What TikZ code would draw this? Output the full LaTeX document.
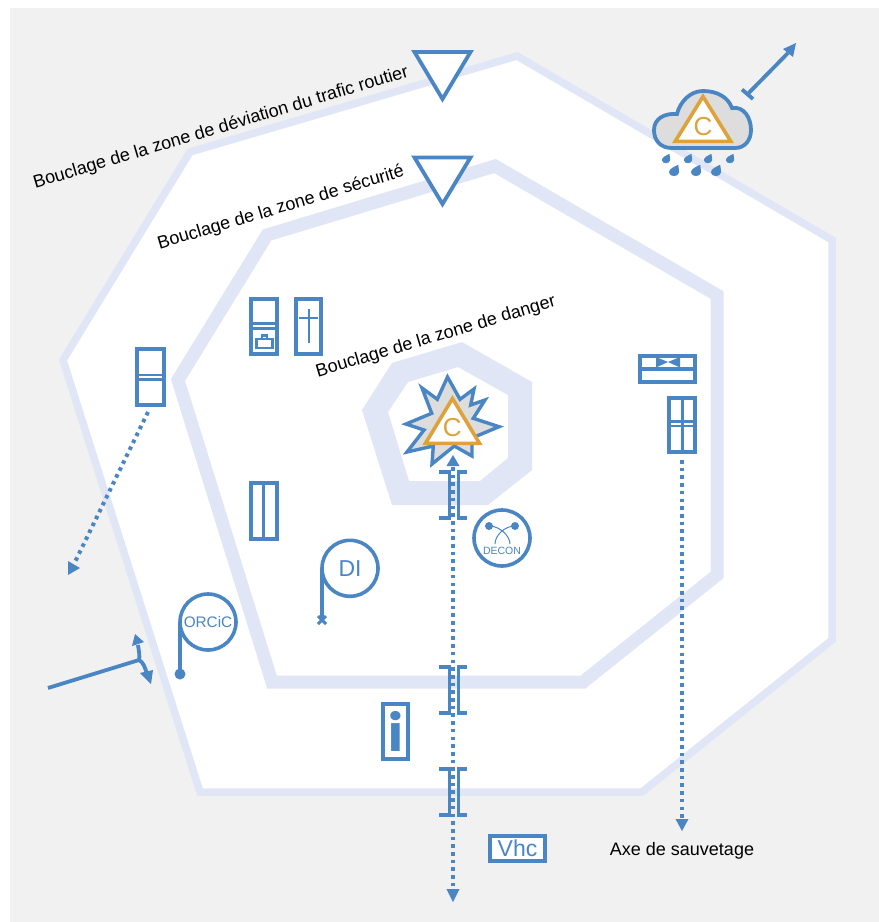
\documentclass[tikz,border=0pt]{standalone}
\usepackage{fontspec}
\setmainfont{Liberation Sans}
\newfontfamily\infofont{Poppins}
\usetikzlibrary{arrows.meta}
\definecolor{bluec}{HTML}{4A85C4}
\definecolor{bandc}{HTML}{E1E6F6}
\definecolor{bgc}{HTML}{F1F1F1}
\definecolor{orangec}{HTML}{DDA23C}
\definecolor{greyc}{HTML}{DDDDDD}
\tikzset{
  x=1pt,y=-1pt,
  band/.style={draw=bandc,line join=miter,fill=white},
  bluebox/.style={draw=bluec,line width=3.5pt,fill=white,outer sep=0pt},
  hazard/.style={draw=orangec,line width=3.6pt,fill=white,line join=miter},
  hazletter/.style={text=orangec,font=\fontsize{26}{26}\selectfont,inner sep=0pt},
  roundsign/.style={circle,draw=bluec,line width=3.6pt,minimum size=56pt,inner sep=0pt,outer sep=0pt,text=bluec},
  zonetext/.style={rotate=16.6,font=\fontsize{18}{18}\selectfont,text=black,inner sep=0pt},
  dotline/.style={draw=bluec,line width=4pt,dash pattern=on 3.6pt off 4.1pt},
  heada/.style={fill=bluec,draw=none},
  bracket/.style={draw=bluec,line width=3.4pt},
  solidarrow/.style={draw=bluec,line width=3.8pt},
  invtri/.style={draw=bluec,line width=3.8pt,line join=miter,fill=white},
  boxline/.style={draw=bluec,line width=2.6pt},
}
\begin{document}
\begin{tikzpicture}
\useasboundingbox (0,0) rectangle (879,922);
\fill[bgc] (10,8) rectangle (879,922);
% zones
\draw[band,line width=7.5pt] (517,56) -- (832,240) -- (832,640) -- (642,792) -- (200,792) -- (63,360) -- (190,152) -- cycle;
\draw[band,line width=13pt] (495,166) -- (717,295) -- (717,575) -- (583,682) -- (272,682) -- (178,380) -- (267,235) -- cycle;
\fill[bandc,even odd rule] (462,342) -- (532,382) -- (532,470) -- (488,505) -- (392,505) -- (362,410) -- (392,363) -- cycle
  (458,367) -- (508,395) -- (508,458) -- (480,481) -- (409,481) -- (388,412) -- (408,382) -- cycle;
% labels
\node[zonetext] (zoneA) at (221,128) {Bouclage de la zone de déviation du trafic routier};
\node[zonetext] (zoneB) at (281,208) {Bouclage de la zone de sécurité};
\node[zonetext] (zoneC) at (436,337) {Bouclage de la zone de danger};
% inverted triangles
\draw[invtri] (414.5,52) -- (470.5,52) -- (442.5,99) -- cycle;
\draw[invtri] (414.5,157.5) -- (470.5,157.5) -- (442.5,204) -- cycle;
% cloud
\draw[draw=bluec,line width=3.8pt,fill=greyc] (672,148) .. controls (660,148) and (654,140) .. (654,130)
  .. controls (654,119) and (664,113) .. (677,114) .. controls (680,102) and (690,91) .. (703,91)
  .. controls (717,91) and (728,97) .. (732,108) .. controls (744,106) and (751,118) .. (751,130)
  .. controls (751,140) and (745,148) .. (735,148) -- cycle;
\draw[hazard] (703,96.5) -- (730.8,141.3) -- (675.2,141.3) -- cycle;
\node[hazletter] (hazA) at (703,127) {C};
\foreach \dx/\dy/\ds in {666/159/1.15,688/159/1.15,708/159/1.15,730/159/1.15,674/171/1.4,696/171/1.4,716/171/1.4}
  \fill[bluec,shift={(\dx,\dy)},scale=\ds] (3,-4.5) .. controls (3.4,-1) and (3.8,0) .. (3.6,1)
     .. controls (3.2,4.4) and (-3.2,4.6) .. (-3.6,1) .. controls (-3.6,-1.5) and (0,-3) .. (3,-4.5) -- cycle;
% wind arrow
\coordinate (windA) at (747.7,94);
\coordinate (windB) at (788,53);
\draw[solidarrow] (windA) -- (windB);
\fill[heada] (796,43) -- (793,57) -- (783,49) -- cycle;
\draw[solidarrow] (742,89.5) -- (753,99);
% explosion
\draw[draw=bluec,line width=3.4pt,fill=greyc,line join=miter]
  (447.5,377) -- (460,399.3) -- (474,389) -- (470.7,405) -- (485,400) -- (473.3,418.3) -- (499,426.7)
  -- (472,438) -- (472,456) -- (454.3,446) -- (432,464) -- (433.3,446) -- (407,452) -- (424,430) -- (406,424)
  -- (431.7,413.3) -- (422,388) -- (437.3,399.3) -- cycle;
\draw[hazard] (452.5,398.5) -- (479.5,443.3) -- (425.5,443.3) -- cycle;
\node[hazletter] (hazB) at (452.3,428) {C};
% main dotted axis
\coordinate (axisTop) at (453,455);
\coordinate (axisBot) at (453,902);
\draw[dotline] (453,467) -- (453,889);
\fill[heada] (axisTop) -- (459.5,466) -- (446.5,466) -- cycle;
\fill[heada] (axisBot) -- (446.5,889) -- (459.5,889) -- cycle;
% brackets
\foreach \ya/\yb in {472/518,667/713,769/815}{
  \draw[bracket] (439,\ya) -- (449.3,\ya) -- (449.3,\yb) -- (439,\yb);
  \draw[bracket] (467,\ya) -- (458.5,\ya) -- (458.5,\yb) -- (467,\yb);
}
% decon
\node[roundsign] (decon) at (502,538) {};
\node[text=bluec,font=\fontsize{10.5}{10.5}\selectfont,inner sep=0pt] (deconT) at (502,551) {DECON};
\fill[bluec] (489,526) circle (4);
\fill[bluec] (515,526) circle (4);
\draw[draw=bluec,line width=1pt] (489,526) .. controls (500,526) and (510,536) .. (510,544);
\draw[draw=bluec,line width=1pt] (515,526) .. controls (504,526) and (495,536) .. (495,544);
% DI
\node[roundsign,font=\fontsize{23}{23}\selectfont] (di) at (350,568.3) {DI};
\coordinate (diEnd) at (di.west |- 0,620);
\draw[draw=bluec,line width=3.6pt] (di.west) -- (diEnd);
\draw[draw=bluec,line width=3pt] ([shift={(-4,-4)}]diEnd) -- ([shift={(4,4)}]diEnd) ([shift={(4,-4)}]diEnd) -- ([shift={(-4,4)}]diEnd);
% ORCiC
\node[roundsign,font=\fontsize{15.3}{15.3}\selectfont] (orcic) at (208,622) {ORCiC};
\coordinate (orcEnd) at (orcic.west |- 0,674);
\draw[draw=bluec,line width=3.6pt] (orcic.west) -- (orcEnd);
\fill[bluec] (orcEnd) circle (5.5);
% forked arrow
\coordinate (forkA) at (48,688);
\coordinate (forkB) at (139,660);
\draw[solidarrow] (forkA) -- (forkB);
\draw[solidarrow] (forkB) .. controls (140,656) and (139,652) .. (138,645);
\draw[solidarrow] (forkB) .. controls (143,662) and (145,667) .. (147,674);
\fill[heada] (135,634) -- (144,642) -- (132,646) -- cycle;
\fill[heada] (151,684) -- (140,673) -- (153,670) -- cycle;
% boxes
\draw[bluebox] (251,299) rectangle (277,354);
\draw[boxline] (251,323.5) -- (277,323.5) (251,328.5) -- (277,328.5);
\draw[boxline] (256.5,339) rectangle (272.5,348);
\draw[boxline] (262,339) -- (262,335.5) -- (267,335.5) -- (267,339);
\draw[bluebox] (296,299) rectangle (321,354);
\draw[boxline,line width=2pt] (308.5,309) -- (308.5,343) (299,318) -- (318,318);
\draw[bluebox] (137,349) rectangle (164,405);
\draw[boxline] (137,375) -- (164,375) (137,379.5) -- (164,379.5);
\draw[bluebox] (251,483) rectangle (277,539);
\draw[boxline] (263.5,483) -- (263.5,539);
\draw[bluebox] (640,356) rectangle (695,382);
\draw[bluec,line width=3.5pt] (640,369) -- (695,369);
\fill[bluec] (656,357) -- (668,362) -- (656,367.5) -- cycle (680,357) -- (668,362) -- (680,367.5) -- cycle;
\draw[bluebox] (669,398) rectangle (695,452);
\draw[boxline,line width=3pt] (682,398) -- (682,452);
\draw[boxline] (669,421.5) -- (695,421.5) (669,426) -- (695,426);
% dotted left arrow and right axis
\coordinate (leftA) at (148,412);
\coordinate (leftB) at (68,575);
\draw[dotline] (leftA) -- (74,564);
\fill[heada] (leftB) -- (68,561) -- (80,568) -- cycle;
\coordinate (rightA) at (682,460);
\coordinate (rightB) at (682,831);
\draw[dotline] (rightA) -- (682,819);
\fill[heada] (rightB) -- (675.5,819) -- (688.5,819) -- cycle;
% info
\node[bluebox,minimum width=25pt,minimum height=55pt,inner sep=0pt,text=bluec,font=\infofont\bfseries\fontsize{50}{50}\selectfont] (info) at (395.5,731.5) {i};
% Vhc
\node[bluebox,minimum width=55pt,minimum height=25pt,inner sep=0pt,text=bluec,font=\fontsize{23}{23}\selectfont] (vhc) at (517.5,848.5) {Vhc};
% axis label
\node[text=black,font=\fontsize{18}{18}\selectfont,inner sep=0pt] (axe) at (682,851) {Axe de sauvetage};
\end{tikzpicture}
\end{document}
